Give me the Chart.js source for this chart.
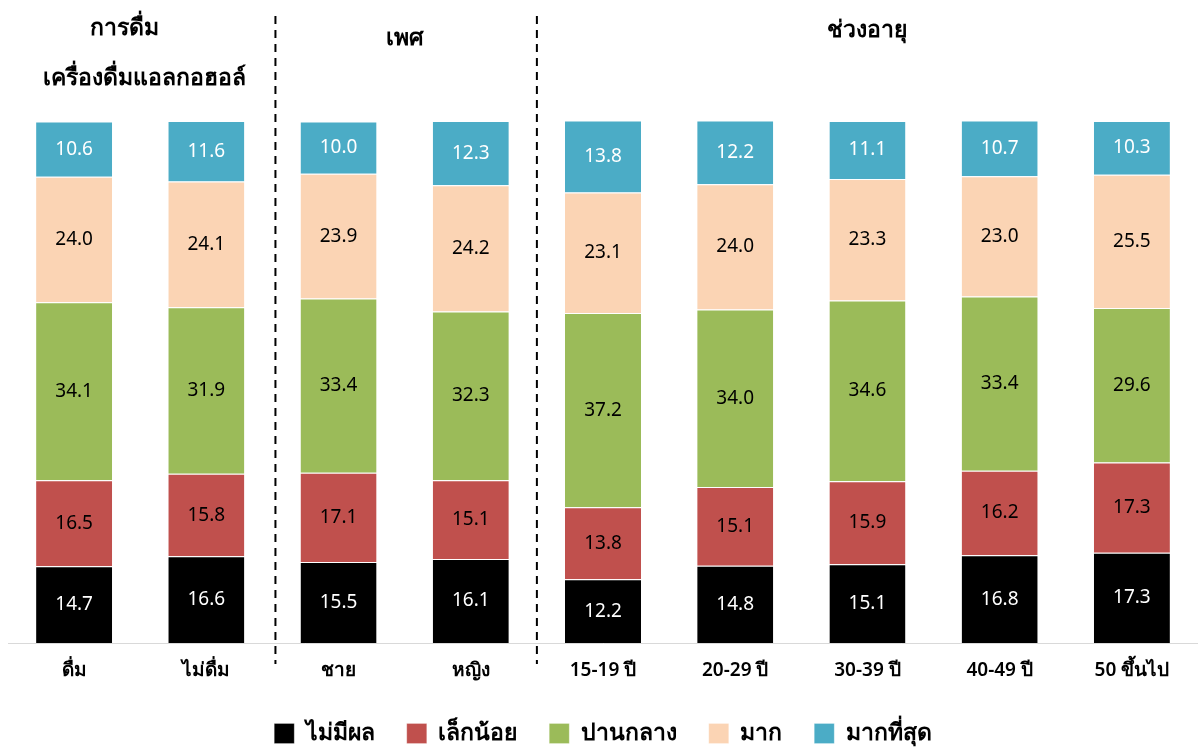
<!DOCTYPE html>
<html>
<head>
<meta charset="utf-8">
<script src="https://cdn.jsdelivr.net/npm/chart.js@4.4.1/dist/chart.umd.min.js"></script>
<style>
  html, body { margin: 0; padding: 0; background: #fff; }
  #wrap { width: 1198px; height: 749px; position: relative; }
</style>
</head>
<body>
<div id="wrap"><canvas id="chart" width="1198" height="749"></canvas></div>
<script>
'use strict';

const CATEGORIES = ['ดื่ม', 'ไม่ดื่ม', 'ชาย', 'หญิง', '15-19 ปี', '20-29 ปี', '30-39 ปี', '40-49 ปี', '50 ขึ้นไป'];
const SERIES_NAMES = ['ไม่มีผล', 'เล็กน้อย', 'ปานกลาง', 'มาก', 'มากที่สุด'];
const NO_EFFECT = [14.7, 16.6, 15.5, 16.1, 12.2, 14.8, 15.1, 16.8, 17.3];
const SLIGHT = [16.5, 15.8, 17.1, 15.1, 13.8, 15.1, 15.9, 16.2, 17.3];
const MODERATE = [34.1, 31.9, 33.4, 32.3, 37.2, 34.0, 34.6, 33.4, 29.6];
const HIGH = [24.0, 24.1, 23.9, 24.2, 23.1, 24.0, 23.3, 23.0, 25.5];
const HIGHEST = [10.6, 11.6, 10.0, 12.3, 13.8, 12.2, 11.1, 10.7, 10.3];

// group headers over the category ranges
const GROUPS = [
  { from: 0, to: 1, lines: ['การดื่ม', 'เครื่องดื่มแอลกอฮอล์'] },
  { from: 2, to: 3, lines: ['เพศ'] },
  { from: 4, to: 8, lines: ['ช่วงอายุ'] },
];

const COLORS = ['#000000', '#C0504D', '#9BBB59', '#FBD4B4', '#4BACC6'];
const LABEL_COLORS = ['#ffffff', '#000000', '#000000', '#000000', '#ffffff'];
const FONT = "'Noto Sans', 'DejaVu Sans', sans-serif";

const values = [NO_EFFECT, SLIGHT, MODERATE, HIGH, HIGHEST];

const segmentLabels = {
  id: 'segmentLabels',
  afterDatasetsDraw(chart) {
    const ctx = chart.ctx;
    ctx.save();
    ctx.font = `19px ${FONT}`;
    ctx.textAlign = 'center';
    ctx.textBaseline = 'middle';
    chart.data.datasets.forEach((ds, i) => {
      chart.getDatasetMeta(i).data.forEach((bar, j) => {
        const mid = (bar.y + bar.base) / 2;
        ctx.fillStyle = LABEL_COLORS[i];
        ctx.fillText(ds.data[j].toFixed(1), bar.x, mid);
      });
    });
    ctx.restore();
  }
};

const groupDecor = {
  id: 'groupDecor',
  afterDraw(chart) {
    const ctx = chart.ctx;
    const x = chart.scales.x;
    ctx.save();
    // dashed separators
    ctx.strokeStyle = '#000';
    ctx.lineWidth = 2;
    ctx.setLineDash([8, 6]);
    for (let g = 0; g < GROUPS.length - 1; g++) {
      const sx = (x.getPixelForValue(GROUPS[g].to) + x.getPixelForValue(GROUPS[g + 1].from)) / 2 + (g === 0 ? 3 : 0);
      ctx.beginPath();
      ctx.moveTo(sx, 16);
      ctx.lineTo(sx, 664);
      ctx.stroke();
    }
    ctx.setLineDash([]);
    // headers
    ctx.fillStyle = '#000';
    ctx.font = `bold 23px ${FONT}`;
    ctx.textAlign = 'center';
    ctx.textBaseline = 'middle';
    GROUPS.forEach((g) => {
      const cx = (x.getPixelForValue(g.from) + x.getPixelForValue(g.to)) / 2;
      if (g.lines.length === 2) {
        ctx.fillText(g.lines[0], cx - 16, 28);
        ctx.fillText(g.lines[1], cx + 4, 78);
      } else {
        ctx.fillText(g.lines[0], cx, g.from === 2 ? 38 : 30);
      }
    });
    ctx.restore();
  }
};

new Chart(document.getElementById('chart'), {
  type: 'bar',
  data: {
    labels: CATEGORIES,
    datasets: SERIES_NAMES.map((name, i) => ({
      label: name,
      data: values[i],
      backgroundColor: COLORS[i],
      borderColor: '#ffffff',
      borderWidth: { top: 1 },
      borderSkipped: false,
      barPercentage: 0.575,
      categoryPercentage: 1,
    })),
  },
  options: {
    responsive: false,
    animation: false,
    devicePixelRatio: 1,
    layout: { padding: { top: 121, left: 8, right: 0, bottom: -6 } },
    plugins: {
      legend: {
        position: 'bottom',
        labels: {
          color: '#000',
          font: { family: FONT, size: 23, weight: '600', lineHeight: 1 },
          boxWidth: 20,
          boxHeight: 20,
          padding: 32,
        },
      },
      tooltip: { enabled: false },
    },
    scales: {
      x: {
        stacked: true,
        grid: { display: false },
        border: { color: '#d9d9d9', width: 1 },
        ticks: {
          color: '#000',
          padding: 10,
          font: { family: FONT, size: 19, weight: '600', lineHeight: 1 },
        },
      },
      y: {
        stacked: true,
        min: 0,
        max: 100,
        display: false,
      },
    },
  },
  plugins: [segmentLabels, groupDecor],
});
</script>
</body>
</html>
